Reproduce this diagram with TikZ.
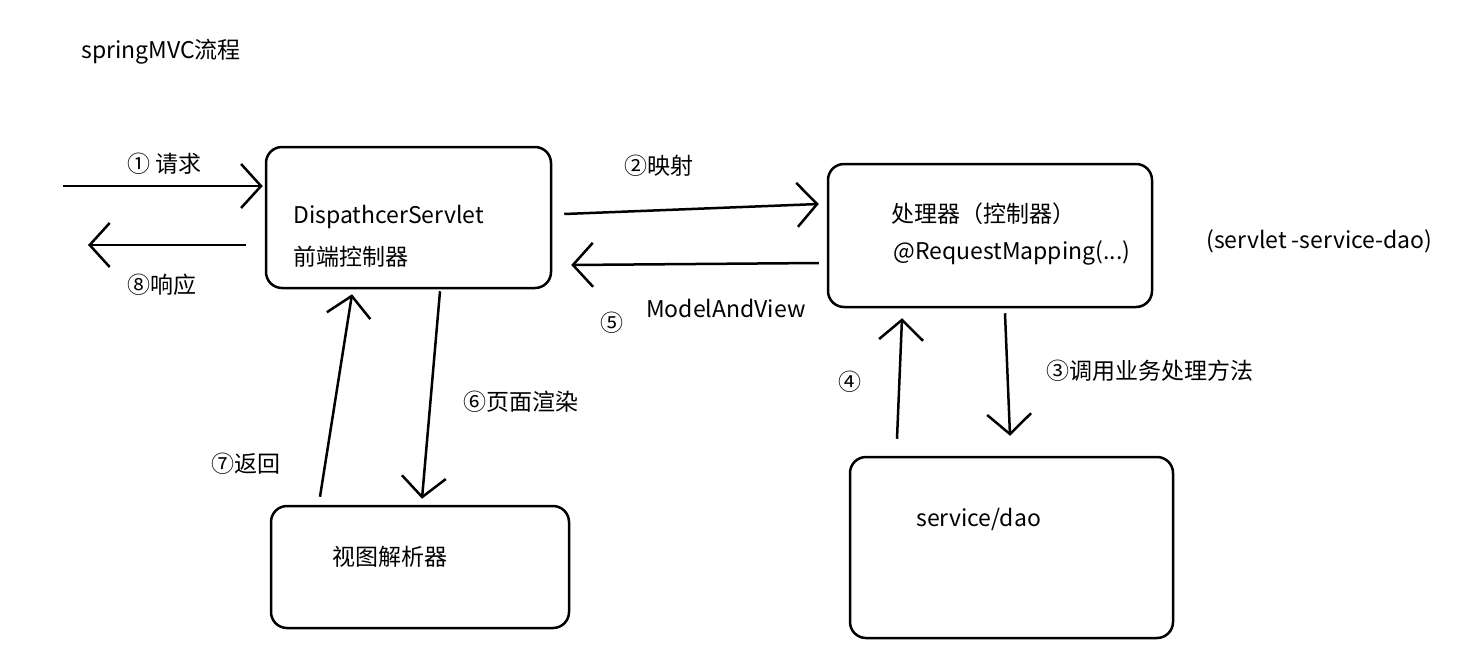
\documentclass[tikz,border=0pt]{standalone}
\usepackage{fontspec}
\setmainfont{Noto Sans CJK SC}
\usetikzlibrary{arrows.meta,calc}

\begin{document}
\begin{tikzpicture}[x=1pt, y=-1pt, line width=2.5pt,
  every node/.style={font=\fontsize{23}{27}\selectfont},
  box/.style={draw, rounded corners=16pt, inner sep=0pt},
  txt/.style={anchor=west, inner sep=0pt},
  arr/.style={-{Straight Barb[length=20pt,width=44pt]}}]
\useasboundingbox (0,0) rectangle (1477,659);
\node[txt] (title) at (80,52) {springMVC流程};

% boxes
\node[box, minimum width=285pt, minimum height=141pt] (ds) at (408.5,217.5) {};
\node[box, minimum width=324pt, minimum height=143pt] (hd) at (990,235.5) {};
\node[box, minimum width=298pt, minimum height=122pt] (vr) at (420,567) {};
\node[box, minimum width=323pt, minimum height=181pt] (sd) at (1011.5,547.5) {};

\node[txt] (dsname) at (292,217) {DispathcerServlet};
\node[txt] (dscn) at (292,257) {前端控制器};
\node[txt] (hdcn) at (890,214) {处理器（控制器）};
\node[txt] (hdmap) at (892,253) {@RequestMapping(...)};
\node[txt] (note) at (1205,241) {(servlet -service-dao)};
\node[txt] (vrcn) at (331,557) {视图解析器};
\node[txt] (sdname) at (915,519) {service/dao};

% connectors
\coordinate (req) at (63,186);
\coordinate (resp) at (88,245);
\draw[arr] (req) -- ([xshift=-2pt,yshift=31.5pt]ds.west);
\draw[arr] ([xshift=-19pt,yshift=-27.5pt]ds.west) -- (resp);
\draw[arr] ([xshift=12pt,yshift=3.5pt]ds.east) -- ([xshift=-8pt,yshift=31.5pt]hd.west);
\draw[arr] ([xshift=-8pt,yshift=-27.5pt]hd.west) -- ([xshift=19pt,yshift=-47.5pt]ds.east);
\draw[arr] ([xshift=15pt,yshift=-5pt]hd.south) -- ([xshift=-1.5pt,yshift=20pt]sd.north);
\draw[arr] ([xshift=-114.5pt,yshift=17pt]sd.north) -- ([xshift=-88pt,yshift=-10pt]hd.south);
\draw[arr] ([xshift=31.5pt,yshift=-2pt]ds.south) -- ([xshift=2pt,yshift=6pt]vr.north);
\draw[arr] ([xshift=-100pt,yshift=8pt]vr.north) -- ([xshift=-56.5pt,yshift=-5pt]ds.south);

% step labels
\node[txt] (s1) at (126,164) {① 请求};
\node[txt] (s8) at (126,285) {⑧响应};
\node[txt] (s2) at (623,166) {②映射};
\node[txt] (s5) at (599,323) {⑤};
\node[txt] (mav) at (645,308) {ModelAndView};
\node[txt] (s3) at (1045,371) {③调用业务处理方法};
\node[txt] (s4) at (837,382) {④};
\node[txt] (s6) at (462,402) {⑥页面渲染};
\node[txt] (s7) at (210,464) {⑦返回};
\end{tikzpicture}
\end{document}
